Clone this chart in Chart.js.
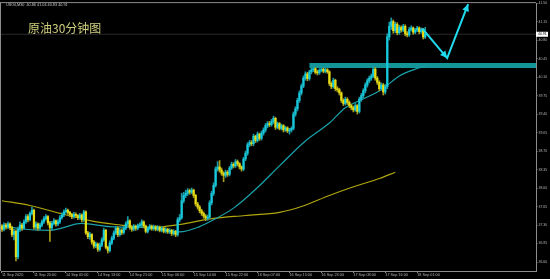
<!DOCTYPE html>
<html lang="zh">
<head>
  <meta charset="UTF-8" />
  <title>原油30分钟图</title>
  <script src="https://cdn.jsdelivr.net/npm/chart.js"></script>
  <style>
    html, body {
      margin: 0;
      background: #000;
      overflow: hidden;
    }
    #oil {
      display: block;
    }
  </style>
</head>
<body>

<canvas id="oil" width="550" height="279"></canvas>

<script>
// USOil M30 candles, 11 Sep 12:00 .. 18 Sep 01:30
const opens = [
  37.28,37.22,37.30,37.26,37.32,37.25,37.12,37.18,36.70,37.22,
  37.30,37.24,37.36,37.46,37.40,37.52,37.58,37.26,37.32,37.24,
  37.30,37.36,37.42,37.46,37.34,37.25,37.33,37.38,37.32,37.36,
  37.44,37.49,37.55,37.58,37.54,37.50,37.46,37.50,37.48,37.44,
  37.49,37.40,37.55,37.15,37.08,37.12,36.98,36.90,36.94,36.84,
  36.92,37.02,37.20,36.88,36.82,36.96,37.05,37.15,37.24,37.12,
  37.20,37.16,37.24,37.32,37.38,37.26,37.22,37.28,37.24,37.29,
  37.30,37.36,37.28,37.18,37.24,37.28,37.23,37.27,37.22,37.26,
  37.20,37.24,37.18,37.22,37.17,37.20,37.14,37.18,37.12,37.40,
  37.44,37.76,37.86,37.90,37.95,37.92,37.96,37.86,37.70,37.64,
  37.57,37.52,37.47,37.43,37.45,37.72,37.90,38.05,38.36,38.40,
  38.34,38.28,38.24,38.30,38.26,38.38,38.45,38.42,38.50,38.46,
  38.40,38.36,38.55,38.66,38.82,38.86,38.84,38.98,38.90,39.02,
  38.94,39.04,39.10,39.18,39.22,39.20,39.26,39.32,39.15,39.22,
  39.13,39.18,39.10,39.14,39.08,39.10,39.13,39.40,39.50,39.66,
  39.80,39.93,40.08,40.16,40.07,40.20,40.24,40.26,40.19,40.18,
  40.23,40.25,40.21,40.24,40.20,39.98,39.92,40.04,39.88,39.86,
  39.80,39.66,39.60,39.68,39.62,39.56,39.52,39.48,39.56,39.45,
  39.68,39.75,39.84,39.95,40.03,40.08,40.12,40.25,40.08,40.00,
  39.88,39.95,39.82,39.92,40.86,41.06,41.15,40.98,41.10,40.94,
  41.04,40.99,41.06,40.92,40.90,41.00,41.03,40.95,40.99,41.03,
  40.96,41.00,40.86
];
const highs = [
  37.31,37.34,37.33,37.36,37.34,37.28,37.22,37.21,37.26,37.36,
  37.33,37.40,37.50,37.50,37.55,37.64,37.60,37.36,37.34,37.33,
  37.40,37.46,37.50,37.48,37.37,37.37,37.42,37.40,37.40,37.48,
  37.53,37.59,37.62,37.60,37.56,37.52,37.54,37.53,37.50,37.52,
  37.51,37.58,37.57,37.18,37.16,37.14,37.01,36.98,36.96,36.96,
  37.06,37.24,37.22,36.90,37.00,37.09,37.19,37.28,37.27,37.24,
  37.23,37.27,37.36,37.46,37.40,37.29,37.31,37.30,37.32,37.34,
  37.40,37.38,37.30,37.27,37.31,37.30,37.30,37.29,37.29,37.28,
  37.27,37.26,37.25,37.24,37.23,37.22,37.21,37.20,37.44,37.50,
  37.90,37.92,37.96,37.99,37.98,38.00,37.98,37.88,37.73,37.67,
  37.60,37.55,37.50,37.49,37.76,37.94,38.10,38.40,38.50,38.52,
  38.38,38.31,38.34,38.33,38.41,38.49,38.48,38.54,38.53,38.48,
  38.42,38.58,38.70,38.86,38.90,38.90,39.02,39.00,39.06,39.04,
  39.08,39.14,39.22,39.26,39.26,39.30,39.36,39.34,39.25,39.24,
  39.21,39.20,39.17,39.16,39.13,39.16,39.44,39.54,39.70,39.84,
  39.97,40.12,40.20,40.19,40.23,40.27,40.29,40.28,40.23,40.26,
  40.28,40.27,40.27,40.26,40.22,40.01,40.08,40.06,39.92,39.89,
  39.82,39.69,39.72,39.71,39.65,39.59,39.55,39.60,39.58,39.72,
  39.79,39.88,39.99,40.07,40.12,40.16,40.32,40.28,40.11,40.03,
  39.99,39.98,39.96,40.92,41.14,41.22,41.18,41.14,41.13,41.08,
  41.07,41.10,41.09,40.96,41.04,41.07,41.05,41.02,41.06,41.05,
  41.03,41.02,41.04
];
const lows = [
  37.18,37.19,37.22,37.23,37.21,37.08,37.02,36.62,36.66,37.18,
  37.20,37.22,37.33,37.36,37.38,37.49,37.22,37.21,37.20,37.21,
  37.27,37.33,37.39,37.30,36.99,37.21,37.30,37.28,37.29,37.33,
  37.41,37.46,37.52,37.50,37.46,37.42,37.43,37.44,37.40,37.41,
  37.36,37.37,37.12,37.04,37.03,36.94,36.86,36.87,36.80,36.81,
  36.89,36.99,36.85,36.77,36.79,36.93,37.02,37.12,37.08,37.09,
  37.12,37.13,37.21,37.29,37.22,37.18,37.19,37.20,37.21,37.26,
  37.27,37.25,37.15,37.15,37.21,37.20,37.20,37.19,37.19,37.17,
  37.17,37.15,37.15,37.14,37.14,37.10,37.11,37.08,37.09,37.36,
  37.41,37.72,37.82,37.86,37.88,37.89,37.82,37.66,37.60,37.53,
  37.48,37.43,37.38,37.39,37.42,37.68,37.86,38.02,38.32,38.30,
  38.24,38.12,38.20,38.22,38.23,38.35,38.38,38.39,38.42,38.36,
  38.32,38.33,38.52,38.62,38.78,38.80,38.80,38.86,38.87,38.90,
  38.91,39.00,39.06,39.14,39.16,39.17,39.22,39.11,39.12,39.10,
  39.10,39.06,39.07,39.05,39.02,39.06,39.10,39.36,39.46,39.62,
  39.76,39.90,40.04,40.03,40.04,40.16,40.20,40.16,40.14,40.15,
  40.20,40.18,40.18,40.17,39.94,39.88,39.89,39.84,39.82,39.76,
  39.62,39.56,39.57,39.58,39.52,39.48,39.44,39.45,39.40,39.42,
  39.64,39.71,39.80,39.91,39.99,40.04,40.09,40.04,39.96,39.84,
  39.85,39.76,39.78,39.88,40.80,41.00,40.93,40.94,40.90,40.91,
  40.95,40.96,40.88,40.86,40.87,40.97,40.91,40.92,40.96,40.92,
  40.93,40.82,40.83
];
const closes = [
  37.22,37.30,37.26,37.32,37.25,37.12,37.18,36.70,37.22,37.30,
  37.24,37.36,37.46,37.40,37.52,37.58,37.26,37.32,37.24,37.30,
  37.36,37.42,37.46,37.34,37.25,37.33,37.38,37.32,37.36,37.44,
  37.49,37.55,37.58,37.54,37.50,37.46,37.50,37.48,37.44,37.49,
  37.40,37.55,37.15,37.08,37.12,36.98,36.90,36.94,36.84,36.92,
  37.02,37.20,36.88,36.82,36.96,37.05,37.15,37.24,37.12,37.20,
  37.16,37.24,37.32,37.38,37.26,37.22,37.28,37.24,37.29,37.30,
  37.36,37.28,37.18,37.24,37.28,37.23,37.27,37.22,37.26,37.20,
  37.24,37.18,37.22,37.17,37.20,37.14,37.18,37.12,37.40,37.44,
  37.76,37.86,37.90,37.95,37.92,37.96,37.86,37.70,37.64,37.57,
  37.52,37.47,37.43,37.45,37.72,37.90,38.05,38.36,38.40,38.34,
  38.28,38.24,38.30,38.26,38.38,38.45,38.42,38.50,38.46,38.40,
  38.36,38.55,38.66,38.82,38.86,38.84,38.98,38.90,39.02,38.94,
  39.04,39.10,39.18,39.22,39.20,39.26,39.32,39.15,39.22,39.13,
  39.18,39.10,39.14,39.08,39.10,39.13,39.40,39.50,39.66,39.80,
  39.93,40.08,40.16,40.07,40.20,40.24,40.26,40.19,40.18,40.23,
  40.25,40.21,40.24,40.20,39.98,39.92,40.04,39.88,39.86,39.80,
  39.66,39.60,39.68,39.62,39.56,39.52,39.48,39.56,39.45,39.68,
  39.75,39.84,39.95,40.03,40.08,40.12,40.25,40.08,40.00,39.88,
  39.95,39.82,39.92,40.86,41.06,41.15,40.98,41.10,40.94,41.04,
  40.99,41.06,40.92,40.90,41.00,41.03,40.95,40.99,41.03,40.96,
  41.00,40.86,40.91
];

// moving averages, sampled along the drawn curves (bar index / price)
const fastMaIdx = [0, 9, 24, 40, 54, 74, 89, 99, 106, 116, 128, 139, 152, 164, 172, 180, 190, 199, 207, 212];
const fastMa = [37.29, 37.23, 37.20, 37.33, 37.27, 37.25, 37.17, 37.27, 37.40, 37.62, 38.01, 38.42, 38.89, 39.23, 39.52, 39.67, 39.86, 40.12, 40.25, 40.31];
const slowMaIdx = [0, 14, 29, 46, 57, 74, 89, 105, 122, 139, 150, 164, 175, 189, 197];
const slowMa = [37.76, 37.67, 37.52, 37.37, 37.31, 37.25, 37.31, 37.42, 37.48, 37.54, 37.65, 37.86, 38.01, 38.18, 38.30];

// resistance band and forecast arrow
const zoneIdx = [154, 267.5];
const zonePrice = [40.32, 40.32];
const arrowIdx = [210.5, 223, 233.5];
const arrowPrice = [41.02, 40.46, 41.48];
const lastPrice = 40.91;

const timeTickIdx = [0, 16, 32, 48, 64, 80, 96, 112, 128, 144, 160, 176, 192, 208];
const timeLabels = [
  '11 Sep 2020', '11 Sep 20:00', '14 Sep 05:00', '14 Sep 13:00', '14 Sep 21:00',
  '15 Sep 06:00', '15 Sep 14:00', '15 Sep 22:00', '16 Sep 07:00', '16 Sep 15:00',
  '16 Sep 23:00', '17 Sep 08:00', '17 Sep 16:00', '18 Sep 01:00'
];
const priceTicks = [36.60, 36.95, 37.30, 37.65, 38.00, 38.35, 38.70, 39.05, 39.40, 39.75, 40.10, 40.45, 40.80, 41.15, 41.50];

const header = 'USOil,M30  40.86 41.04 40.83 40.91';
const title = '原油30分钟图';

const bull = '#17c9dc';
const bear = '#e8dc12';

const pts = (xs, ys) => xs.map((x, i) => ({ x: x, y: ys[i] }));
const ARROW = 6;

const decor = {
  id: 'decor',
  afterDatasetsDraw(chart) {
    // arrow heads at the bend and the tip
    const p = chart.getDatasetMeta(ARROW).data;
    const ctx = chart.ctx;
    ctx.save();
    ctx.fillStyle = '#1fdcef';
    [[p[0], p[1]], [p[1], p[2]]].forEach(([a, b]) => {
      const ang = Math.atan2(b.y - a.y, b.x - a.x);
      ctx.beginPath();
      ctx.moveTo(b.x, b.y);
      ctx.lineTo(b.x - 7 * Math.cos(ang) + 3.5 * Math.sin(ang), b.y - 7 * Math.sin(ang) - 3.5 * Math.cos(ang));
      ctx.lineTo(b.x - 7 * Math.cos(ang) - 3.5 * Math.sin(ang), b.y - 7 * Math.sin(ang) + 3.5 * Math.cos(ang));
      ctx.closePath();
      ctx.fill();
    });
    ctx.restore();
  },
  afterDraw(chart) {
    const { ctx, chartArea: a, scales } = chart;
    ctx.save();
    ctx.strokeStyle = '#8c8c8c';
    ctx.lineWidth = 1;
    ctx.beginPath();
    ctx.moveTo(0.5, a.top - 1);
    ctx.lineTo(0.5, a.bottom);
    ctx.moveTo(0, a.top - 0.5);
    ctx.lineTo(a.right, a.top - 0.5);
    ctx.stroke();

    ctx.textBaseline = 'middle';
    ctx.fillStyle = '#c8c8c8';
    ctx.font = '3.8px "Liberation Sans"';
    ctx.fillText(header, 6, 5);

    ctx.fillStyle = '#cfcf7e';
    ctx.font = '12px "Noto Sans CJK SC"';
    ctx.fillText(title, 28, 28);

    const py = scales.y.getPixelForValue(lastPrice);
    ctx.fillStyle = '#ffffff';
    ctx.fillRect(a.right, py - 2.5, 12, 5);
    ctx.fillStyle = '#000';
    ctx.font = '3.5px "Liberation Sans"';
    ctx.fillText(lastPrice.toFixed(2), a.right + 2, py);
    ctx.restore();
  }
};

new Chart(document.getElementById('oil'), {
  type: 'bar',
  data: {
    datasets: [
      {
        type: 'line',
        data: pts(zoneIdx, zonePrice),
        borderColor: '#12969a',
        borderWidth: 5,
        borderCapStyle: 'butt',
        pointRadius: 0,
        order: 10
      },
      {
        type: 'line',
        data: [{ x: -0.5, y: lastPrice }, { x: 267.5, y: lastPrice }],
        borderColor: '#2a2a2a',
        borderWidth: 1,
        pointRadius: 0,
        order: 9
      },
      {
        type: 'line',
        data: pts(slowMaIdx, slowMa),
        borderColor: '#b0a60c',
        borderWidth: 1.2,
        pointRadius: 0,
        cubicInterpolationMode: 'monotone',
        order: 8
      },
      {
        type: 'line',
        data: pts(fastMaIdx, fastMa),
        borderColor: '#1aa2aa',
        borderWidth: 1.2,
        pointRadius: 0,
        cubicInterpolationMode: 'monotone',
        order: 7
      },
      {
        data: highs.map((h, i) => ({ x: i, y: [lows[i], h] })),
        backgroundColor: closes.map((c, i) => c >= opens[i] ? '#1a9aa6' : '#a89e1c'),
        barThickness: 1,
        grouped: false,
        order: 6
      },
      {
        data: opens.map((o, i) => ({ x: i, y: [o, closes[i]] })),
        backgroundColor: closes.map((c, i) => c >= opens[i] ? bull : bear),
        barThickness: 1.6,
        minBarLength: 1,
        grouped: false,
        order: 5
      },
      {
        type: 'line',
        data: pts(arrowIdx, arrowPrice),
        borderColor: '#1fdcef',
        borderWidth: 2,
        pointRadius: 0,
        order: 1
      }
    ]
  },
  options: {
    responsive: false,
    devicePixelRatio: 1,
    animation: false,
    layout: { padding: { left: 1, top: 2, right: 0, bottom: 0 } },
    plugins: {
      legend: { display: false },
      tooltip: { enabled: false }
    },
    scales: {
      x: {
        type: 'linear',
        min: -0.5,
        max: 267.5,
        offset: false,
        afterFit: s => { s.height = 8; },
        afterBuildTicks: s => { s.ticks = timeTickIdx.map(v => ({ value: v })); },
        ticks: {
          autoSkip: false,
          maxRotation: 0,
          align: 'start',
          padding: 0,
          color: '#b4b4b4',
          font: { size: 3.8, family: 'Liberation Sans' },
          callback: (v, i) => timeLabels[i]
        },
        grid: { offset: false, drawOnChartArea: false, tickLength: 2, color: '#8c8c8c' },
        border: { color: '#8c8c8c' }
      },
      y: {
        type: 'linear',
        position: 'right',
        min: 36.43,
        max: 41.50,
        beginAtZero: false,
        afterFit: s => { s.width = 14; },
        afterBuildTicks: s => { s.ticks = priceTicks.map(v => ({ value: v })); },
        ticks: {
          padding: 1,
          color: '#b4b4b4',
          font: { size: 3.5, family: 'Liberation Sans' },
          callback: v => v.toFixed(2)
        },
        grid: { drawOnChartArea: false, tickLength: 1.5, color: '#8c8c8c' },
        border: { color: '#8c8c8c' }
      }
    }
  },
  plugins: [decor]
});
</script>

</body>
</html>
